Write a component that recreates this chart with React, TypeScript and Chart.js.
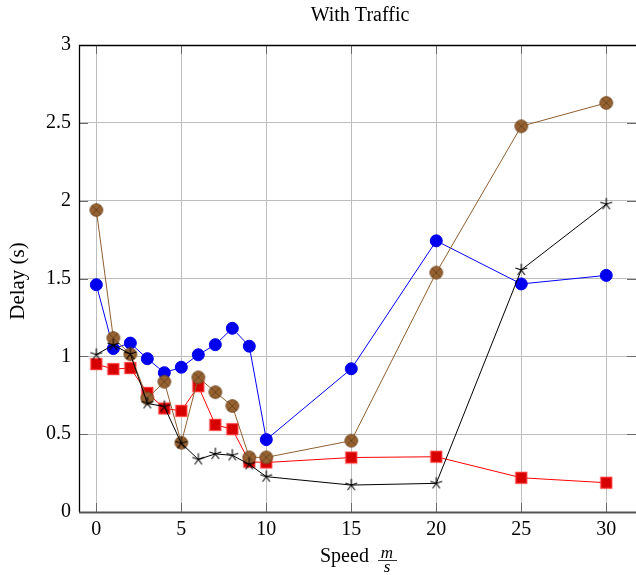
import React, { useEffect, useRef } from 'react';
import { Chart, registerables } from 'chart.js';
Chart.register(...registerables);

const speeds = [0, 1, 2, 3, 4, 5, 6, 7, 8, 9, 10, 15, 20, 25, 30];
const blueDelay = [1.46, 1.05, 1.085, 0.985, 0.895, 0.93, 1.01, 1.075, 1.18, 1.065, 0.465, 0.92, 1.742, 1.465, 1.52];
const redDelay = [0.95, 0.918, 0.925, 0.765, 0.665, 0.65, 0.808, 0.56, 0.532, 0.323, 0.318, 0.35, 0.355, 0.22, 0.188];
const brownDelay = [1.94, 1.118, 1.013, 0.73, 0.837, 0.445, 0.865, 0.77, 0.681, 0.351, 0.351, 0.458, 1.538, 2.478, 2.628];
const blackDelay = [1.011, 1.073, 1.015, 0.698, 0.677, 0.441, 0.338, 0.373, 0.364, 0.306, 0.227, 0.173, 0.184, 1.555, 1.977];
const xTicks = [0, 5, 10, 15, 20, 25, 30];
const yTicks = [0, 0.5, 1, 1.5, 2, 2.5, 3];

const titleText = 'With Traffic';
const yTitle = 'Delay (s)';
const xTitle = 'Speed';
const xTitleNum = 'm';
const xTitleDen = 's';

const SERIF = '"Liberation Serif", "Times New Roman", serif';

function makeOtimes(): HTMLCanvasElement {
  const c = document.createElement('canvas');
  c.width = 16; c.height = 16;
  const ctx = c.getContext('2d')!;
  const r = 6.3;
  ctx.beginPath();
  ctx.arc(8, 8, r, 0, Math.PI * 2);
  ctx.fillStyle = '#976231';
  ctx.fill();
  ctx.lineWidth = 1;
  ctx.strokeStyle = '#70461f';
  ctx.stroke();
  const d = r * 0.7;
  ctx.beginPath();
  ctx.moveTo(8 - d, 8 - d); ctx.lineTo(8 + d, 8 + d);
  ctx.moveTo(8 + d, 8 - d); ctx.lineTo(8 - d, 8 + d);
  ctx.lineWidth = 0.8;
  ctx.strokeStyle = '#5e3b1a';
  ctx.stroke();
  return c;
}

function makeStar(): HTMLCanvasElement {
  const c = document.createElement('canvas');
  c.width = 16; c.height = 16;
  const ctx = c.getContext('2d')!;
  ctx.beginPath();
  for (let k = 0; k < 5; k++) {
    const a = -Math.PI / 2 + (k * 2 * Math.PI) / 5;
    ctx.moveTo(8, 8);
    ctx.lineTo(8 + 6.2 * Math.cos(a), 8 + 6.2 * Math.sin(a));
  }
  ctx.lineWidth = 1.1;
  ctx.strokeStyle = '#000';
  ctx.stroke();
  return c;
}

function makeSquare(): HTMLCanvasElement {
  const c = document.createElement('canvas');
  c.width = 14; c.height = 14;
  const ctx = c.getContext('2d')!;
  ctx.fillStyle = '#d60000';
  ctx.fillRect(1, 1, 12, 12);
  ctx.lineWidth = 1.2;
  ctx.strokeStyle = '#ff3b3b';
  ctx.strokeRect(1.5, 1.5, 11, 11);
  return c;
}

const decor = {
  id: 'decor',
  afterDatasetsDraw(chart: any) {
    const { ctx, chartArea: a, scales } = chart;
    const xs = scales.x, ys = scales.y;
    ctx.save();
    ctx.strokeStyle = '#6a6a6a';
    ctx.lineWidth = 1;
    const tl = 9;
    ctx.beginPath();
    xTicks.forEach((v) => {
      const px = Math.round(xs.getPixelForValue(v)) + 0.5;
      ctx.moveTo(px, a.bottom); ctx.lineTo(px, a.bottom - tl);
      ctx.moveTo(px, a.top); ctx.lineTo(px, a.top + tl);
    });
    yTicks.forEach((v) => {
      const py = Math.round(ys.getPixelForValue(v)) + 0.5;
      ctx.moveTo(a.left, py); ctx.lineTo(a.left + tl, py);
      ctx.moveTo(a.right, py); ctx.lineTo(a.right - tl, py);
    });
    ctx.stroke();
    ctx.strokeStyle = '#000';
    ctx.lineWidth = 1.3;
    ctx.beginPath();
    ctx.moveTo(a.left + 0.5, a.bottom);
    ctx.lineTo(a.left + 0.5, a.top + 0.5);
    ctx.lineTo(a.right, a.top + 0.5);
    ctx.stroke();
    ctx.strokeStyle = '#555';
    ctx.lineWidth = 2;
    ctx.beginPath();
    ctx.moveTo(a.left, a.bottom + 0.5);
    ctx.lineTo(a.right, a.bottom + 0.5);
    ctx.stroke();
    ctx.restore();
  },
  afterDraw(chart: any) {
    const { ctx } = chart;
    ctx.save();
    ctx.fillStyle = '#000';
    ctx.textBaseline = 'alphabetic';
    ctx.font = `20px ${SERIF}`;
    ctx.textAlign = 'center';
    ctx.fillText(titleText, 360, 21);
    ctx.save();
    ctx.translate(24, 281);
    ctx.rotate(-Math.PI / 2);
    ctx.font = `21px ${SERIF}`;
    ctx.textAlign = 'center';
    ctx.fillText(yTitle, 0, 0);
    ctx.restore();
    ctx.font = `20px ${SERIF}`;
    ctx.textAlign = 'left';
    ctx.fillText(xTitle, 320, 562);
    ctx.font = `italic 17px ${SERIF}`;
    ctx.textAlign = 'center';
    ctx.fillText(xTitleNum, 387, 557.5);
    ctx.fillText(xTitleDen, 387, 571.5);
    ctx.strokeStyle = '#000';
    ctx.lineWidth = 0.8;
    ctx.beginPath();
    ctx.moveTo(378, 560.5);
    ctx.lineTo(397, 560.5);
    ctx.stroke();
    ctx.restore();
  },
};

export default function App() {
  const ref = useRef<HTMLCanvasElement | null>(null);
  useEffect(() => {
    if (!ref.current) return;
    const otimes = makeOtimes();
    const star = makeStar();
    const square = makeSquare();
    const mk = (arr: number[]) => speeds.map((x, i) => ({ x, y: arr[i] }));
    const chart = new Chart(ref.current, {
      type: 'line',
      data: {
        datasets: [
          { label: 'black', data: mk(blackDelay), borderColor: '#000', borderWidth: 1, pointStyle: star as any, pointRadius: 6, order: 0 },
          { label: 'brown', data: mk(brownDelay), borderColor: '#8f5e2f', borderWidth: 1, pointStyle: otimes as any, pointRadius: 7, order: 1 },
          { label: 'red', data: mk(redDelay), borderColor: '#ff0000', borderWidth: 1, pointStyle: square as any, pointRadius: 7, order: 2 },
          {
            label: 'blue', data: mk(blueDelay), borderColor: '#0000ff', borderWidth: 1, pointStyle: 'circle', pointRadius: 6,
            pointBackgroundColor: '#0000ee', pointBorderColor: '#0000ee', pointBorderWidth: 1, order: 3,
          },
        ],
      },
      options: {
        responsive: false,
        animation: false,
        events: [],
        layout: { autoPadding: false, padding: { top: 45, left: 0, right: 0, bottom: 0 } },
        plugins: { legend: { display: false }, title: { display: false }, tooltip: { enabled: false } },
        scales: {
          x: {
            type: 'linear',
            min: -1.02,
            max: 31.75,
            afterBuildTicks: (s: any) => { s.ticks = xTicks.map((v) => ({ value: v })); },
            afterFit: (s: any) => { s.height = 63; s.paddingLeft = 0; s.paddingRight = 0; },
            grid: { color: '#bdbdbd', lineWidth: 1, drawTicks: false },
            border: { display: false },
            ticks: { color: '#000', font: { family: SERIF, size: 20 }, padding: 6, maxRotation: 0, autoSkip: false, callback: (v: any) => String(v) },
          },
          y: {
            type: 'linear',
            min: 0,
            max: 3,
            afterBuildTicks: (s: any) => { s.ticks = yTicks.map((v) => ({ value: v })); },
            afterFit: (s: any) => { s.width = 79; s.paddingTop = 0; s.paddingBottom = 0; },
            grid: { color: '#bdbdbd', lineWidth: 1, drawTicks: false },
            border: { display: false },
            ticks: { color: '#000', font: { family: SERIF, size: 20 }, padding: 8, autoSkip: false, callback: (v: any) => String(v) },
          },
        },
      },
      plugins: [decor],
    });
    return () => chart.destroy();
  }, []);
  return (
    <div style={{ position: 'absolute', left: 0, top: 0, width: 636, height: 575 }}>
      <canvas ref={ref} width={636} height={575} style={{ display: 'block', width: 636, height: 575 }} />
    </div>
  );
}
